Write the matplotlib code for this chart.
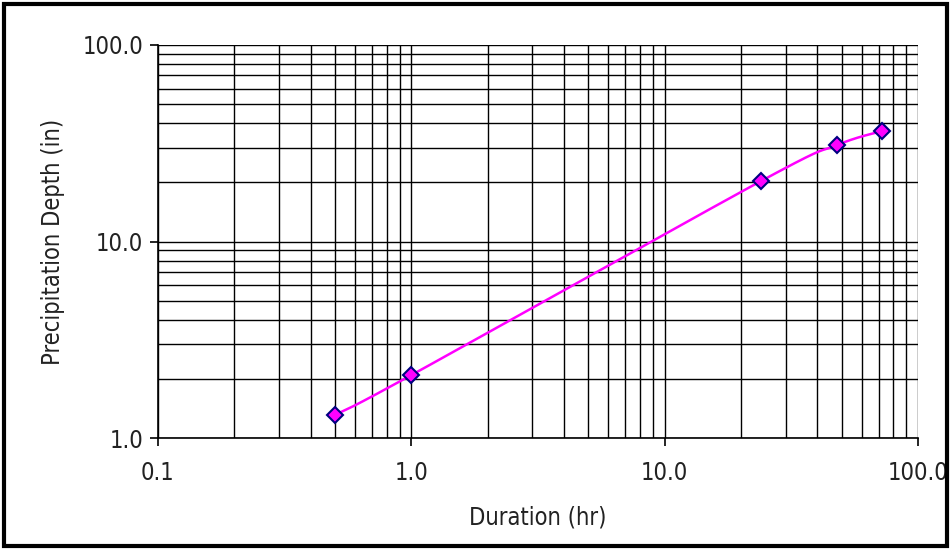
import numpy as np
import matplotlib
matplotlib.use("Agg")
import matplotlib.pyplot as plt
from matplotlib.ticker import LogLocator, FixedLocator, FixedFormatter, NullFormatter
from matplotlib.patches import Rectangle

duration_hr = [0.5, 1.0, 24.0, 48.0, 72.0]
depth_in = [1.31, 2.09, 20.3, 31.0, 36.5]
x_tick_vals = [0.1, 1.0, 10.0, 100.0]
x_tick_labels = ["0.1", "1.0", "10.0", "100.0"]
y_tick_vals = [1.0, 10.0, 100.0]
y_tick_labels = ["1.0", "10.0", "100.0"]

plt.rcParams['font.family'] = ['DejaVu Sans']
plt.rcParams['font.stretch'] = 'condensed'

fig = plt.figure(figsize=(9.52, 5.5), dpi=100)
ax = fig.add_axes([158/952, 1-438/550, (918-158)/952, (438-45)/550])

# smooth curve (Bezier through points in log space)
lx = np.log10(duration_hr)
ly = np.log10(depth_in)
P = np.column_stack([lx, ly])
P = np.vstack([P[0], P, P[-1]])
cx, cy = [], []
for i in range(1, len(P) - 2):
    p0, p1, p2, p3 = P[i-1], P[i], P[i+1], P[i+2]
    t = np.linspace(0, 1, 40)[:, None]
    c1 = p1 + (p2 - p0) / 6
    c2 = p2 - (p3 - p1) / 6
    b = ((1-t)**3)*p1 + 3*((1-t)**2)*t*c1 + 3*(1-t)*t**2*c2 + t**3*p2
    cx.extend(b[:, 0]); cy.extend(b[:, 1])
ax.plot(10**np.array(cx), 10**np.array(cy), color="#FF00FF", lw=1.8, zorder=3)
ax.plot(duration_hr, depth_in, linestyle="none", marker="D", markersize=8,
        markerfacecolor="#FF00FF", markeredgecolor="#000080", markeredgewidth=1.5, zorder=4)

ax.set_xscale("log")
ax.set_yscale("log")
ax.set_xlim(0.1, 100)
ax.set_ylim(1, 100)

ax.xaxis.set_major_locator(FixedLocator(x_tick_vals))
ax.xaxis.set_major_formatter(FixedFormatter(x_tick_labels))
ax.yaxis.set_major_locator(FixedLocator(y_tick_vals))
ax.yaxis.set_major_formatter(FixedFormatter(y_tick_labels))
ax.xaxis.set_minor_locator(LogLocator(base=10, subs=np.arange(2, 10)))
ax.yaxis.set_minor_locator(LogLocator(base=10, subs=np.arange(2, 10)))
ax.xaxis.set_minor_formatter(NullFormatter())
ax.yaxis.set_minor_formatter(NullFormatter())

ax.grid(True, which="both", color="black", linewidth=1.0)
ax.set_axisbelow(True)
ax.tick_params(which="minor", length=0)
ax.tick_params(which="major", length=5.5, width=1.2, color="black", labelsize=17,
               labelcolor="#222222")
ax.tick_params(axis="y", pad=5)
ax.tick_params(axis="x", pad=11)

for s in ["top", "right"]:
    ax.spines[s].set_visible(False)
for s in ["left", "bottom"]:
    ax.spines[s].set_linewidth(1.2)

ax.set_xlabel("Duration (hr)", fontsize=17, color="#222222")
ax.set_ylabel("Precipitation Depth (in)", fontsize=17, color="#222222")
ax.xaxis.label.set_va("center")
ax.yaxis.label.set_va("center")
ax.xaxis.set_label_coords(0.5, (438 - 518) / 393)
ax.yaxis.set_label_coords((53 - 158) / 760, 0.5)

fig.patches.append(Rectangle((4/952, 4/550), 943/952, 542/550, transform=fig.transFigure,
                             fill=False, edgecolor="black", linewidth=3))

fig.savefig("out.png", dpi=100)
